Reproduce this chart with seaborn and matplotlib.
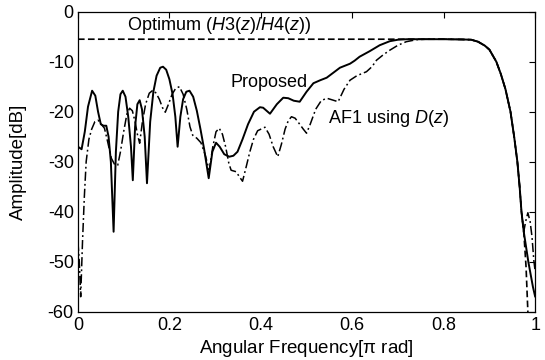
import numpy as np
import pandas as pd
import matplotlib
matplotlib.use("Agg")
import matplotlib.pyplot as plt
import seaborn as sns

# ---- data ----
prop_x = [0.000, 0.008, 0.015, 0.022, 0.031, 0.038, 0.044, 0.050, 0.056, 0.062,
          0.067, 0.072, 0.078, 0.083, 0.088, 0.093, 0.098, 0.104, 0.110, 0.116,
          0.120, 0.125, 0.130, 0.135, 0.140, 0.146, 0.151, 0.158, 0.165, 0.172,
          0.180, 0.186, 0.193, 0.200, 0.207, 0.213, 0.218, 0.224, 0.230, 0.237,
          0.244, 0.252, 0.260, 0.268, 0.276, 0.286, 0.294, 0.302, 0.310, 0.320,
          0.331, 0.340, 0.349, 0.360, 0.372, 0.385, 0.398, 0.405, 0.420, 0.435,
          0.449, 0.460, 0.472, 0.485, 0.500, 0.515, 0.530, 0.544, 0.560, 0.573,
          0.595, 0.605, 0.616, 0.638, 0.660, 0.682, 0.700, 0.720, 0.760, 0.800,
          0.840, 0.860, 0.875, 0.890, 0.900, 0.915, 0.925, 0.935, 0.946, 0.954,
          0.961, 0.966, 0.970, 0.975, 0.980, 0.985, 0.990, 0.995, 1.000]
prop_y = [-27.0, -27.5, -24.0, -19.0, -15.8, -16.8, -20.0, -22.5, -22.8, -22.8,
          -25.0, -30.0, -44.0, -28.0, -20.0, -16.5, -15.8, -17.0, -21.0, -27.0,
          -33.7, -23.0, -18.5, -17.7, -19.5, -25.0, -34.3, -22.0, -16.0, -12.8,
          -11.2, -11.0, -11.6, -13.5, -16.5, -21.0, -27.0, -21.0, -17.5, -16.0,
          -15.8, -17.0, -19.8, -23.5, -27.5, -33.3, -28.0, -26.2, -27.0, -28.5,
          -29.0, -28.8, -28.0, -25.5, -22.5, -20.0, -19.1, -19.2, -20.4, -18.5,
          -17.2, -17.3, -17.8, -18.0, -16.0, -14.3, -13.7, -13.2, -12.1, -11.2,
          -10.4, -9.8, -9.0, -7.9, -6.7, -5.9, -5.6, -5.5, -5.5, -5.5,
          -5.55, -5.6, -6.0, -6.8, -7.6, -10.0, -12.5, -15.5, -20.0, -25.0,
          -30.0, -35.0, -40.0, -44.0, -47.0, -50.0, -52.5, -55.0, -57.0]

af1_x = [0.000, 0.003, 0.006, 0.010, 0.014, 0.018, 0.024, 0.030, 0.037, 0.044,
         0.051, 0.058, 0.065, 0.073, 0.080, 0.087, 0.093, 0.100, 0.107, 0.113,
         0.119, 0.125, 0.130, 0.135, 0.141, 0.148, 0.156, 0.164, 0.171, 0.178,
         0.185, 0.191, 0.198, 0.206, 0.214, 0.222, 0.230, 0.238, 0.245, 0.251,
         0.260, 0.269, 0.278, 0.287, 0.295, 0.302, 0.309, 0.316, 0.323, 0.330,
         0.335, 0.346, 0.353, 0.360, 0.368, 0.376, 0.384, 0.393, 0.409, 0.418,
         0.427, 0.437, 0.445, 0.453, 0.460, 0.467, 0.475, 0.485, 0.493, 0.500,
         0.508, 0.520, 0.532, 0.544, 0.555, 0.569, 0.582, 0.595, 0.610, 0.631,
         0.643, 0.653, 0.668, 0.682, 0.700, 0.718, 0.740, 0.760, 0.800, 0.840,
         0.860, 0.875, 0.890, 0.900, 0.915, 0.925, 0.935, 0.946, 0.954, 0.961,
         0.966, 0.970, 0.975, 0.979, 0.984, 0.989, 0.993, 0.997, 1.000]
af1_y = [-46.0, -50.0, -57.0, -46.0, -37.0, -30.0, -25.5, -23.5, -22.0, -21.7,
         -22.5, -23.3, -26.0, -29.3, -30.5, -30.7, -28.0, -24.0, -20.5, -19.3,
         -19.8, -22.0, -24.5, -26.3, -22.0, -18.5, -16.3, -15.7, -16.3, -17.5,
         -19.2, -20.1, -18.5, -16.5, -15.3, -15.0, -16.5, -19.5, -23.0, -24.7,
         -25.3, -26.2, -28.5, -31.7, -27.0, -24.0, -23.3, -24.5, -27.0, -30.3,
         -31.7, -32.0, -33.0, -33.9, -31.0, -28.0, -25.5, -23.8, -23.1, -24.5,
         -27.0, -29.0, -26.5, -23.5, -21.8, -21.0, -21.3, -22.5, -23.5, -24.3,
         -22.5, -19.5, -17.8, -17.3, -17.6, -18.0, -15.5, -13.7, -12.8, -12.0,
         -11.0, -9.7, -8.6, -7.7, -6.7, -6.0, -5.6, -5.5, -5.5, -5.55,
         -5.6, -6.0, -6.8, -7.6, -10.0, -12.5, -15.5, -20.0, -25.0, -30.0,
         -35.0, -40.0, -44.0, -42.0, -40.2, -42.0, -45.0, -49.7, -52.0]

opt_x = [0.000, 0.200, 0.400, 0.600, 0.800, 0.840, 0.860, 0.875, 0.890, 0.900,
         0.915, 0.925, 0.935, 0.946, 0.954, 0.961, 0.966, 0.970, 0.975, 0.980,
         0.984, 0.986]
opt_y = [-5.5, -5.5, -5.5, -5.5, -5.5, -5.55, -5.6, -6.0, -6.8, -7.6,
         -10.0, -12.5, -15.5, -20.0, -25.0, -30.0, -35.0, -40.0, -44.0, -51.0,
         -60.0, -64.0]

x_ticks = [0, 0.2, 0.4, 0.6, 0.8, 1]
x_tick_labels = ["0", "0.2", "0.4", "0.6", "0.8", "1"]
y_ticks = [-60, -50, -40, -30, -20, -10, 0]
y_tick_labels = ["-60", "-50", "-40", "-30", "-20", "-10", "0"]

# ---- plotting ----
sns.set_theme(style="white")
plt.rcParams["font.family"] = ["Liberation Sans", "DejaVu Sans"]
plt.rcParams["mathtext.fontset"] = "custom"
plt.rcParams["mathtext.rm"] = "Liberation Sans"
plt.rcParams["mathtext.it"] = "Liberation Sans:italic"
plt.rcParams["xtick.direction"] = "in"
plt.rcParams["ytick.direction"] = "in"

fig = plt.figure(figsize=(5.45, 3.6), dpi=100)
ax = fig.add_axes([0.143, 0.134, 0.839, 0.8335])

df_opt = pd.DataFrame({"x": opt_x, "y": opt_y})
df_prop = pd.DataFrame({"x": prop_x, "y": prop_y})
df_af1 = pd.DataFrame({"x": af1_x, "y": af1_y})

sns.lineplot(data=df_opt, x="x", y="y", ax=ax, color="black", lw=1.2,
             sort=False, estimator=None, linestyle=(0, (4, 2)))
sns.lineplot(data=df_af1, x="x", y="y", ax=ax, color="black", lw=1.1,
             sort=False, estimator=None, linestyle=(0, (6, 2, 1.2, 2)))
sns.lineplot(data=df_prop, x="x", y="y", ax=ax, color="black", lw=1.4,
             sort=False, estimator=None)

ax.set_xlim(0, 1)
ax.set_ylim(-60, 0)
ax.set_xticks(x_ticks)
ax.set_xticklabels(x_tick_labels)
ax.set_yticks(y_ticks)
ax.set_yticklabels(y_tick_labels)
ax.tick_params(axis="both", which="both", direction="in", length=4, width=0.8,
               labelsize=13, colors="black", top=True, right=True, pad=3)
ax.tick_params(axis="x", pad=4)
for s in ax.spines.values():
    s.set_color("black")
    s.set_linewidth(0.9)

ax.set_xlabel(r"Angular Frequency[$\mathrm{\pi}$ rad]", fontsize=13.5,
              color="black", labelpad=3)
ax.set_ylabel("Amplitude[dB]", fontsize=13.5, color="black", labelpad=15)

ax.text(0.107, -3.7, r"Optimum ($\mathit{H}$3($\mathit{z}$)/$\mathit{H}$4($\mathit{z}$))",
        fontsize=13, va="baseline", ha="left", color="black")
ax.text(0.334, -15.1, "Proposed", fontsize=13, va="baseline", ha="left", color="black")
ax.text(0.546, -22.2, r"AF1 using $\mathit{D}$($\mathit{z}$)", fontsize=13,
        va="baseline", ha="left", color="black")

fig.savefig("out.png", dpi=100)
